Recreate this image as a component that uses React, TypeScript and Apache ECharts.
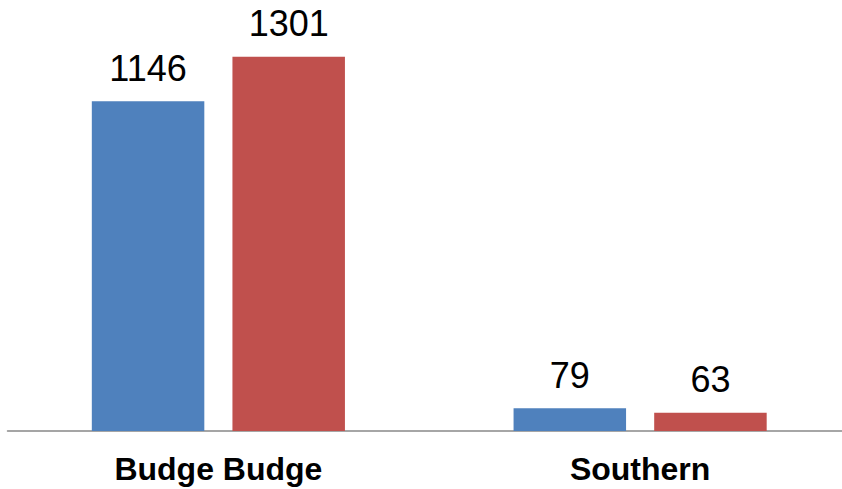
import React, { useEffect, useRef } from "react";
import * as echarts from "echarts";

const categories = ["Budge Budge", "Southern"];
const seriesBlue = [1146, 79];
const seriesRed = [1301, 63];

const FONT = "'Liberation Sans', Arial, sans-serif";

export default function App() {
  const ref = useRef<HTMLDivElement>(null);
  useEffect(() => {
    document.body.style.margin = "0";
    document.body.style.overflow = "hidden";
    const chart = echarts.init(ref.current!, null, { renderer: "svg" });
    const label = {
      show: true,
      position: "top" as const,
      distance: 15,
      color: "#000",
      fontSize: 36,
      fontFamily: FONT,
    };
    chart.setOption({
      animation: false,
      backgroundColor: "#fff",
      grid: { left: 7.5, right: 0, top: 28.2, height: 402.8, containLabel: false },
      xAxis: {
        type: "category",
        data: categories,
        axisLine: { show: true, lineStyle: { color: "#888888", width: 1.5 } },
        axisTick: { show: false },
        axisLabel: {
          color: "#000",
          fontSize: 32,
          fontWeight: "bold",
          fontFamily: FONT,
          margin: 22,
        },
      },
      yAxis: {
        type: "value",
        min: 0,
        max: 1400,
        show: false,
        splitLine: { show: false },
      },
      series: [
        {
          name: "Series 1",
          type: "bar",
          data: seriesBlue,
          barWidth: 112.5,
          barGap: "25%",
          itemStyle: { color: "#4F81BD" },
          label,
        },
        {
          name: "Series 2",
          type: "bar",
          data: seriesRed,
          barWidth: 112.5,
          barGap: "25%",
          itemStyle: { color: "#C0504D" },
          label,
        },
      ],
    });
    return () => chart.dispose();
  }, []);
  return (
    <div style={{ width: 842, height: 489, overflow: "hidden" }}>
      <div ref={ref} style={{ width: 851, height: 489 }} />
    </div>
  );
}
